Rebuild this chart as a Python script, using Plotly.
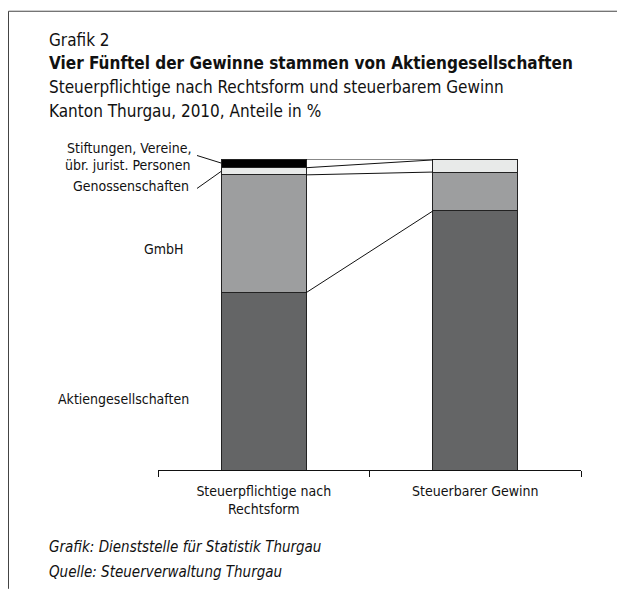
import plotly.graph_objects as go

# data: shares in %
categories = ["Steuerpflichtige nach<br>Rechtsform", "Steuerbarer Gewinn"]
series_names = ["Aktiengesellschaften", "GmbH", "Genossenschaften",
                "Stiftungen, Vereine, übr. jurist. Personen"]
aktiengesellschaften = [57.0, 83.3]
gmbh = [37.9, 12.5]
genossenschaften = [2.3, 3.9]
stiftungen = [2.8, 0.3]

colors = ["#646566", "#9d9e9f", "#e8eae9", "#000000"]
FONT = "DejaVu Sans Condensed, Arial Narrow, sans-serif"

W, H = 625, 589          # window size
OFF = 8                  # page body margin
L, R, T, B = 158, 581, 158.5, 470  # plot area in window pixels
BAR_W = 0.4


def px(x):
    return (x - L) / (R - L)


def py(y):
    return (B - y) / (B - T)


series = [aktiengesellschaften, gmbh, genossenschaften, stiftungen]

fig = go.Figure()
for name, vals, col in zip(series_names, series, colors):
    fig.add_trace(go.Bar(
        x=categories, y=vals, name=name, width=BAR_W,
        marker=dict(color=col, line=dict(color="#222222", width=1)),
        hoverinfo="name+y",
    ))

# connector lines between the bars at every segment boundary
cum0, cum1 = 0, 0
for vals in series:
    cum0 += vals[0]
    cum1 += vals[1]
    fig.add_shape(type="line", xref="x", yref="y",
                  x0=BAR_W / 2, x1=1 - BAR_W / 2, y0=cum0, y1=cum1,
                  line=dict(color="#111111", width=1))

# frame (top + left)
fig.add_shape(type="line", xref="paper", yref="paper",
              x0=px(8.5), x1=px(W), y0=py(10.5), y1=py(10.5),
              line=dict(color="#444444", width=1))
fig.add_shape(type="line", xref="paper", yref="paper",
              x0=px(8.5), x1=px(8.5), y0=py(10.5), y1=py(H),
              line=dict(color="#444444", width=1))

# leader lines for the small segments
fig.add_shape(type="line", xref="paper", yref="paper",
              x0=px(197), y0=py(155), x1=px(221), y1=py(162.5),
              line=dict(color="#111111", width=1))
fig.add_shape(type="line", xref="paper", yref="paper",
              x0=px(197), y0=py(188), x1=px(221), y1=py(171),
              line=dict(color="#111111", width=1))


def note(text, x, y, size=14, anchor="left", bold=False, italic=False):
    if bold:
        text = "<b>" + text + "</b>"
    if italic:
        text = "<i>" + text + "</i>"
    fig.add_annotation(text=text, x=px(x), y=py(y), xref="paper", yref="paper",
                       xanchor=anchor, yanchor="middle", showarrow=False,
                       font=dict(family=FONT, size=size, color="#111111"))


note("Grafik 2", 47, 39, size=17)
note("Vier Fünftel der Gewinne stammen von Aktiengesellschaften", 47, 62, size=17, bold=True)
note("Steuerpflichtige nach Rechtsform und steuerbarem Gewinn", 47, 86, size=17)
note("Kanton Thurgau, 2010, Anteile in %", 47, 110, size=17)

note("Stiftungen, Vereine,", 193, 147, anchor="right")
note("übr. jurist. Personen", 193, 165, anchor="right")
note("Genossenschaften", 191, 186, anchor="right")
note("GmbH", 186, 249, anchor="right")
note("Aktiengesellschaften", 191, 399, anchor="right")

note("Grafik: Dienststelle für Statistik Thurgau", 47, 547, size=15, italic=True)
note("Quelle: Steuerverwaltung Thurgau", 47, 572, size=15, italic=True)

fig.update_layout(
    barmode="stack",
    width=W - OFF, height=H - OFF,
    margin=dict(l=L - OFF, r=W - R, t=T - OFF, b=H - B),
    plot_bgcolor="white", paper_bgcolor="white",
    showlegend=False,
    font=dict(family=FONT, size=14, color="#111111"),
    xaxis=dict(type="category", range=[-0.5, 1.5], showline=True,
               linecolor="#111111", linewidth=1, ticks="outside",
               tickson="boundaries", ticklen=6, tickcolor="#111111",
               ticklabelstandoff=8,
               showgrid=False, zeroline=False,
               tickfont=dict(family=FONT, size=14, color="#111111")),
    yaxis=dict(range=[0, 100], visible=False, showgrid=False, zeroline=False),
)

fig.write_html("out.html")
